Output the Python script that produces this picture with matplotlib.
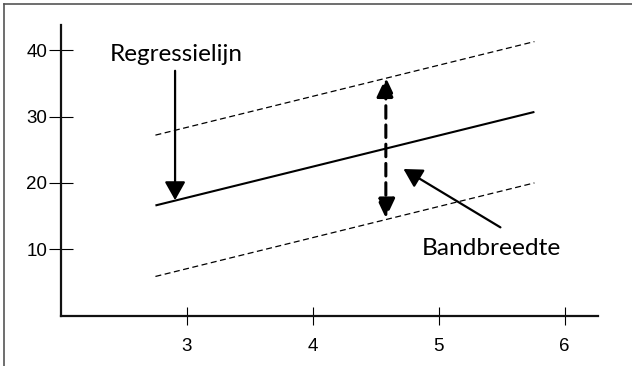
import numpy as np
import matplotlib
matplotlib.use("Agg")
import matplotlib.pyplot as plt
from matplotlib.lines import Line2D

plt.rcParams["font.family"] = ["Liberation Sans", "DejaVu Sans"]

# =========================================
# Data
# =========================================
reg_x = [2.75, 5.76]
reg_y = [16.6, 30.7]
upper_y = [27.2, 41.3]
lower_y = [5.9, 20.0]

x_ticks = [3, 4, 5, 6]
y_ticks = [10, 20, 30, 40]

# annotation anchors (data coords)
reg_label = "Regressielijn"
reg_text_xy = (2.913, 38.3)
reg_arrow_from = (2.906, 36.9)
reg_arrow_to = (2.906, 17.4)

band_label = "Bandbreedte"
band_text_xy = (5.42, 9.14)
band_arrow_from = (5.49, 13.3)
band_arrow_to = (4.72, 22.1)
band_x = 4.58
band_top = 35.9
band_bottom = 14.7

W, H = 632, 366
fig = plt.figure(figsize=(W / 100, H / 100), dpi=100)
ax = fig.add_axes([61 / W, 1 - 315.6 / H, (598 - 61) / W, (315.6 - 25) / H])
ax.set_xlim(2, 6.265)
ax.set_ylim(0, 43.8)

# lines
ax.plot(reg_x, reg_y, color="black", lw=1.5, solid_capstyle="butt")
ax.plot(reg_x, upper_y, color="black", lw=0.9, linestyle=(0, (4.8, 2.8)))
ax.plot(reg_x, lower_y, color="black", lw=0.9, linestyle=(0, (4.8, 2.8)))

# axes styling
for s in ["top", "right"]:
    ax.spines[s].set_visible(False)
for s in ["left", "bottom"]:
    ax.spines[s].set_linewidth(1.6)
    ax.spines[s].set_color("#111111")

tick_font = dict(family=["Liberation Sans", "DejaVu Sans"], size=13.5)
ax.set_xticks(x_ticks)
ax.set_xticklabels([str(v) for v in x_ticks], fontdict=tick_font)
ax.set_yticks(y_ticks)
ax.set_yticklabels([str(v) for v in y_ticks], fontdict=tick_font)
ax.tick_params(axis="y", direction="inout", length=16.8, width=0.8, pad=1.5)
ax.tick_params(axis="x", direction="inout", length=13.5, width=0.8, pad=9.5)

# annotations
ax.text(*reg_text_xy, reg_label, ha="center", va="baseline",
        fontsize=17.5, family="Lato")
ax.annotate("", xy=reg_arrow_to, xytext=reg_arrow_from,
            arrowprops=dict(arrowstyle="-|>,head_length=0.8,head_width=0.45",
                            mutation_scale=14, lw=1.6, color="black",
                            shrinkA=0, shrinkB=0))

ax.text(*band_text_xy, band_label, ha="center", va="baseline",
        fontsize=17.6, family="Lato")
ax.annotate("", xy=band_arrow_to, xytext=band_arrow_from,
            arrowprops=dict(arrowstyle="-|>,head_length=0.8,head_width=0.45",
                            mutation_scale=14, lw=1.6, color="black",
                            shrinkA=0, shrinkB=0))

ax.annotate("", xy=(band_x, band_top), xytext=(band_x, band_bottom),
            arrowprops=dict(arrowstyle="<|-|>,head_length=0.85,head_width=0.4",
                            mutation_scale=14, lw=2.2, color="black",
                            linestyle=(0, (4.1, 2.2)),
                            shrinkA=0, shrinkB=0))

# frame (left and top only, cropped figure)
fig.add_artist(Line2D([4.3 / W, 4.3 / W], [0, 1 - 4.3 / H], color="#555555",
                      lw=1.2, transform=fig.transFigure))
fig.add_artist(Line2D([4.3 / W, 1], [1 - 4.3 / H, 1 - 4.3 / H], color="#555555",
                      lw=1.2, transform=fig.transFigure))

fig.savefig("out.png", dpi=100)
